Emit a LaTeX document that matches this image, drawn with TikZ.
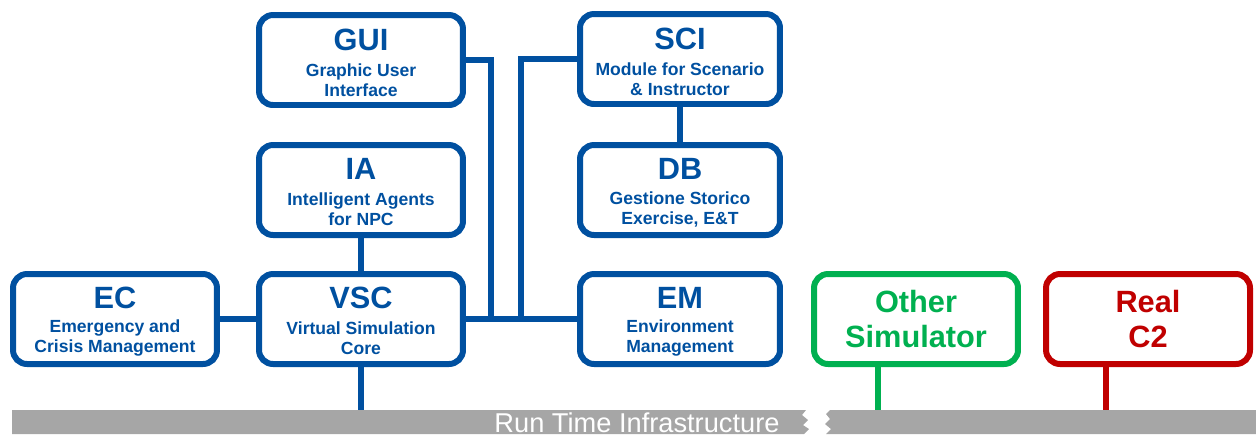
\documentclass[tikz,border=0pt]{standalone}
\usepackage{fontspec}
\setmainfont{Liberation Sans}
\definecolor{cblue}{RGB}{0,80,160}
\definecolor{cgreen}{RGB}{0,176,80}
\definecolor{cred}{RGB}{192,0,0}
\definecolor{cgray}{RGB}{166,166,166}
\begin{document}
\begin{tikzpicture}[x=0.02cm,y=-0.02cm,
  box/.style={draw=#1,line width=0.12cm,rounded corners=0.28cm,minimum width=4.08cm,minimum height=1.8cm,inner sep=0pt},
  box/.default=cblue,
  ttl/.style={text=cblue,font=\fontsize{17.5}{19}\selectfont\bfseries},
  sub/.style={text=cblue,align=center,font=\fontsize{10}{11.4}\selectfont\bfseries},
  big/.style={align=center,font=\fontsize{17.5}{20.4}\selectfont\bfseries},
  wire/.style={draw=#1,line width=0.12cm},
  wire/.default=cblue]
\useasboundingbox (0,0) rectangle (1256,434);
% run time infrastructure bar
\fill[cgray] (12,410) -- (806,410) -- (802,415) -- (808,420) -- (803,425) -- (809,429) -- (804,434) -- (12,434) -- cycle;
\fill[cgray] (830,410) -- (1256,410) -- (1256,434) -- (826,434) -- (831,429) -- (825,424) -- (830,419) -- (826,414) -- cycle;
\node[text=white,font=\fontsize{15.5}{17}\selectfont] (rti) at (637,423) {Run Time Infrastructure};
\coordinate (bVSC) at (361,410);
\coordinate (bOS) at (878,410);
\coordinate (bRC) at (1106,410);
% boxes
\node[box] (gui) at (361,60) {};
\node[box] (ia) at (361,190) {};
\node[box] (vsc) at (361,319) {};
\node[box] (ec) at (115,319) {};
\node[box,minimum width=4.0cm] (sci) at (680,59) {};
\node[box,minimum width=4.0cm] (db) at (680,190) {};
\node[box,minimum width=4.0cm] (em) at (680,319) {};
\node[box=cgreen] (os) at (916,319) {};
\node[box=cred] (rc) at (1148,319) {};
% texts
\node[ttl] (guit) at ([shift={(0,-20)}]gui.center) {GUI};
\node[sub] (guis) at ([shift={(0,20)}]gui.center) {Graphic User\\Interface};
\node[ttl] (iat) at ([shift={(0,-21)}]ia.center) {IA};
\node[sub] (ias) at ([shift={(0,19)}]ia.center) {Intelligent Agents\\for NPC};
\node[ttl] (vsct) at ([shift={(0,-21)}]vsc.center) {VSC};
\node[sub] (vscs) at ([shift={(0,19)}]vsc.center) {Virtual Simulation\\Core};
\node[ttl] (ect) at ([shift={(0,-21)}]ec.center) {EC};
\node[sub] (ecs) at ([shift={(0,19)}]ec.center) {Emergency and\\Crisis Management};
\node[ttl] (scit) at ([shift={(0,-20)}]sci.center) {SCI};
\node[sub] (scis) at ([shift={(0,20)}]sci.center) {Module for Scenario\\\& Instructor};
\node[ttl] (dbt) at ([shift={(0,-21)}]db.center) {DB};
\node[sub] (dbs) at ([shift={(0,19)}]db.center) {Gestione Storico\\Exercise, E\&T};
\node[ttl] (emt) at ([shift={(0,-21)}]em.center) {EM};
\node[sub] (ems) at ([shift={(0,19)}]em.center) {Environment\\Management};
\node[big,text=cgreen] (ost) at (os.center) {Other\\Simulator};
\node[big,text=cred] (rct) at (rc.center) {Real\\C2};
% connectors
\draw[wire] (gui.east) -| (491,320);
\draw[wire] (sci.west) -| (521,320);
\draw[wire] (vsc.east) -- (em.west);
\draw[wire] (ec.east) -- (vsc.west);
\draw[wire] (ia.south) -- (vsc.north);
\draw[wire] (sci.south) -- (db.north);
\draw[wire] (vsc.south) -- (bVSC);
\draw[wire=cgreen] (os.south -| bOS) -- (bOS);
\draw[wire=cred] (rc.south -| bRC) -- (bRC);
\end{tikzpicture}
\end{document}
